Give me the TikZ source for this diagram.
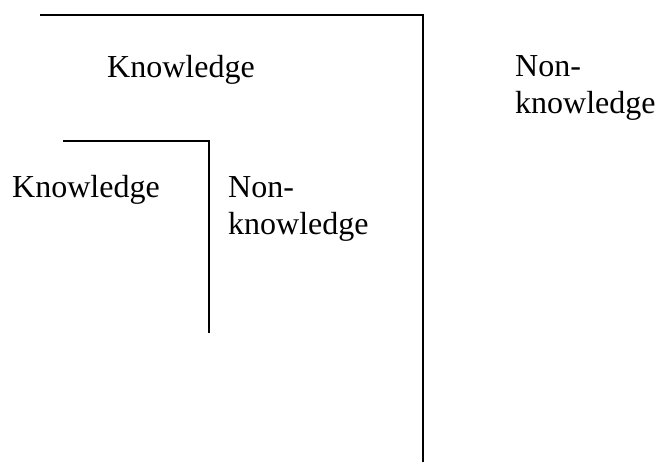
\documentclass[tikz,border=0pt]{standalone}
\usepackage{fontspec}
\setmainfont{Liberation Serif}
\begin{document}
\begin{tikzpicture}[x=1pt,y=-1pt,
  lbl/.style={anchor=base west, inner sep=0pt, align=left, font=\fontsize{32}{37}\selectfont},
  ln/.style={line width=1.5pt}]
\useasboundingbox (0,0) rectangle (659,462);
\coordinate (o1) at (40,15);
\coordinate (o2) at (423,15);
\coordinate (o3) at (423,462);
\coordinate (i1) at (63,141);
\coordinate (i2) at (209,141);
\coordinate (i3) at (209,333);
\draw[ln] (o1) -- (o2) -- (o3);
\draw[ln] (i1) -- (i2) -- (i3);
% base anchor of a multi-line node is the baseline of its last line
\node[lbl] (k1) at (107,78) {Knowledge};
\node[lbl] (n1) at (515,114) {Non-\\knowledge};
\node[lbl] (k2) at (12,198) {Knowledge};
\node[lbl] (n2) at (228,235) {Non-\\knowledge};
\end{tikzpicture}
\end{document}
